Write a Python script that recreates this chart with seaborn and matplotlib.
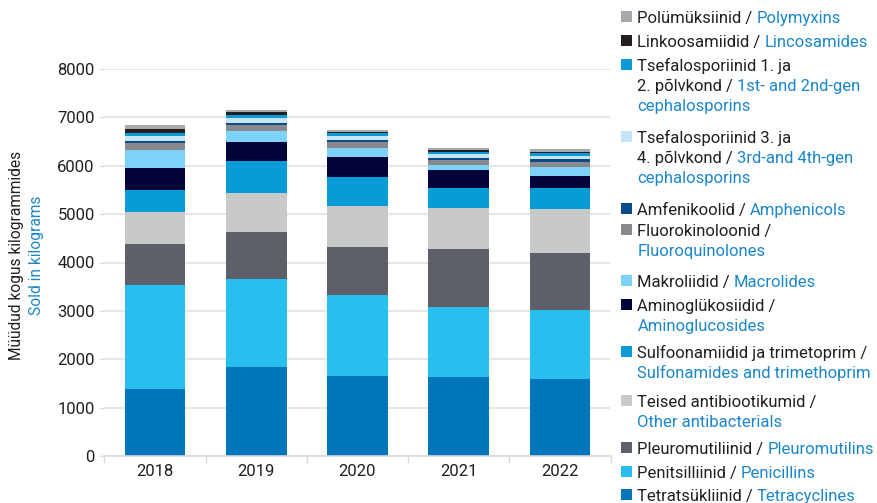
import numpy as np
import pandas as pd
import matplotlib
matplotlib.use("Agg")
import matplotlib.pyplot as plt
from matplotlib.patches import Rectangle
from matplotlib.ticker import FixedLocator
import seaborn as sns

years = ["2018", "2019", "2020", "2021", "2022"]

# bottom -> top
tetracyclines    = [1380, 1840, 1660, 1632, 1597]
penicillins      = [2153, 1817, 1666, 1440, 1420]
pleuromutilins   = [847, 965, 992, 1205, 1170]
other_antibact   = [668, 819, 854, 854, 910]
sulfonamides     = [441, 654, 592, 399, 447]
aminoglycosides  = [468, 399, 407, 379, 248]
macrolides       = [359, 221, 186, 110, 186]
fluoroquinolones = [144, 131, 137, 110, 103]
amphenicols      = [55, 41, 41, 34, 55]
ceph_3_4         = [103, 96, 83, 70, 62]
ceph_1_2         = [62, 62, 49, 54, 56]
lincosamides     = [76, 62, 33, 35, 33]
polymyxins       = [83, 42, 29, 35, 56]

series = [tetracyclines, penicillins, pleuromutilins, other_antibact, sulfonamides,
          aminoglycosides, macrolides, fluoroquinolones, amphenicols, ceph_3_4,
          ceph_1_2, lincosamides, polymyxins]
colors = ["#0075bc", "#28bfef", "#5d6069", "#c8c9c9", "#079bd8", "#02033a",
          "#7dd3f7", "#87898c", "#0b4a8b", "#c5e6f7", "#0a9ad7", "#231f20", "#a7a9ac"]

yticks = [0, 1000, 2000, 3000, 4000, 5000, 6000, 7000, 8000]

# legend texts (top -> bottom): lines of (text, is_english)
legend_entries = [
    [[("Polümüksiinid / ", 0), ("Polymyxins", 1)]],
    [[("Linkoosamiidid / ", 0), ("Lincosamides", 1)]],
    [[("Tsefalosporiinid 1. ja", 0)], [("2. põlvkond / ", 0), ("1st- and 2nd-gen", 1)], [("cephalosporins", 1)]],
    [[("Tsefalosporiinid 3. ja", 0)], [("4. põlvkond / ", 0), ("3rd-and 4th-gen", 1)], [("cephalosporins", 1)]],
    [[("Amfenikoolid / ", 0), ("Amphenicols", 1)]],
    [[("Fluorokinoloonid /", 0)], [("Fluoroquinolones", 1)]],
    [[("Makroliidid / ", 0), ("Macrolides", 1)]],
    [[("Aminoglükosiidid /", 0)], [("Aminoglucosides", 1)]],
    [[("Sulfoonamiidid ja trimetoprim /", 0)], [("Sulfonamides and trimethoprim", 1)]],
    [[("Teised antibiootikumid /", 0)], [("Other antibacterials", 1)]],
    [[("Pleuromutiliinid / ", 0), ("Pleuromutilins", 1)]],
    [[("Penitsilliinid / ", 0), ("Penicillins", 1)]],
    [[("Tetratsükliinid / ", 0), ("Tetracyclines", 1)]],
]
legend_baselines = [22.7, 47.3, 71, 142.7, 215, 236, 286.7, 311, 358.3, 406.7, 454, 477.7, 500.7]

DARK = "#231f20"
BLUE = "#1b87c9"

sns.set_theme(style="white")
plt.rcParams["font.family"] = ["Roboto", "DejaVu Sans"]

W, H = 878, 503
fig = plt.figure(figsize=(W / 100, H / 100), dpi=100)
ax = fig.add_axes([104.5 / W, 1 - 456 / H, (610.5 - 104.5) / W, (456 - 69) / H])

cum = np.cumsum(np.array(series), axis=0)
df = pd.DataFrame({"year": years})
for i in range(len(series) - 1, -1, -1):
    df["v"] = cum[i]
    sns.barplot(data=df, x="year", y="v", order=years, color=colors[i], saturation=1,
                width=0.6, errorbar=None, ax=ax, linewidth=0)

ax.set_xlim(-0.5, 4.5)
ax.set_ylim(0, 8000)
ax.set_yticks(yticks)
ax.set_yticklabels([str(v) for v in yticks])
ax.set_xlabel("")
ax.set_ylabel("")
ax.grid(axis="y", color="#e6e6e6", linewidth=1.5)
ax.set_axisbelow(True)
for s in ["top", "right", "left"]:
    ax.spines[s].set_visible(False)
ax.spines["bottom"].set_color("#d9d9d9")
ax.spines["bottom"].set_linewidth(1.2)
ax.tick_params(axis="y", length=3, color="#d9d9d9", width=1, labelsize=12, labelcolor=DARK, pad=4, left=True)
ax.tick_params(axis="x", which="major", length=0, labelsize=12, labelcolor=DARK, pad=6)
ax.xaxis.set_minor_locator(FixedLocator([-0.5, 0.5, 1.5, 2.5, 3.5, 4.5]))
ax.tick_params(axis="x", which="minor", length=5, color="#d9d9d9", width=1, bottom=True)

# y label (two colours)
fig.text(17 / W, 1 - 255 / H, "Müüdud kogus kilogrammides", rotation=90, ha="center", va="center",
         color=DARK, fontsize=11.2)
fig.text(37 / W, 1 - 255 / H, "Sold in kilograms", rotation=90, ha="center", va="center",
         color=BLUE, fontsize=11.2)

# legend
renderer = fig.canvas.get_renderer()
LFS = 12
tx0 = 637.5
line_gap = 20.0
leg_colors = colors[::-1]
for idx, entry in enumerate(legend_entries):
    base = legend_baselines[idx]
    ax_sq = Rectangle((620.5 / W, 1 - (base - 6.5 + 5.5) / H), 11 / W, 11 / H,
                      transform=fig.transFigure, facecolor=leg_colors[idx], edgecolor="none")
    fig.patches.append(ax_sq)
    for li, line in enumerate(entry):
        y = base + li * line_gap
        x = tx0
        for text, eng in line:
            stripped = text.rstrip(" ")
            t = fig.text(x / W, 1 - y / H, stripped, color=BLUE if eng else DARK,
                         fontsize=LFS, ha="left", va="baseline")
            w = t.get_window_extent(renderer).width
            x += w
            if text.endswith(" "):
                x += 3.6

fig.savefig("out.png", dpi=100)
